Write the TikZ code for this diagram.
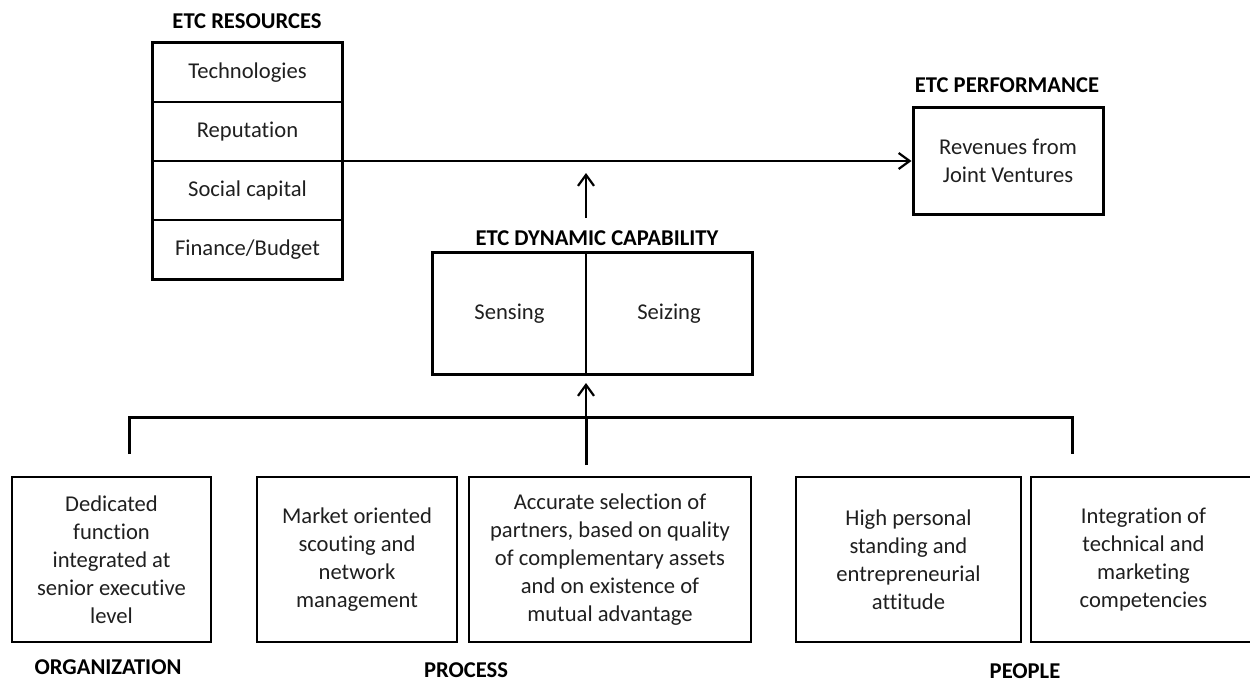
\documentclass[tikz,border=0pt]{standalone}
\usepackage{fontspec}
\setmainfont[Ligatures={NoCommon}]{Carlito}
\usetikzlibrary{arrows.meta,fit}

\tikzset{
  txt/.style={font=\fontsize{22.6}{28}\selectfont, text=black!88, align=center, inner sep=0pt},
  heading/.style={font=\fontsize{22.6}{28}\selectfont\bfseries, text=black, inner sep=0pt},
  cell/.style={txt, draw, line width=1.5pt, minimum width=189pt, minimum height=59pt},
  half/.style={txt, draw, line width=1.5pt, minimum height=121pt},
  outerbox/.style={draw, line width=3pt, inner sep=0pt},
  factor/.style={txt, draw, line width=2.2pt, minimum height=165pt},
  link/.style={line width=2.6pt, -{Straight Barb[length=11pt,width=16pt,line width=2.2pt]}},
  bracket/.style={line width=3pt}
}

\begin{document}
\begin{tikzpicture}[x=1pt,y=-1pt]
\useasboundingbox (0,0) rectangle (1250,682);

% resources column
\node[heading] (resT) at (247,21) {ETC RESOURCES};
\node[cell] (r1) at (247.5,72.5)  {Technologies};
\node[cell] (r2) at (247.5,131.5) {Reputation};
\node[cell] (r3) at (247.5,190.5) {Social capital};
\node[cell] (r4) at (247.5,249.5) {Finance/Budget};
\node[outerbox, fit=(r1)(r4)] (res) {};

% performance
\node[heading] (perfT) at (1007,85) {ETC PERFORMANCE};
\node[txt, outerbox, minimum width=190pt, minimum height=106pt] (perf) at (1008,161)
  {Revenues from\\Joint Ventures};

% dynamic capability
\node[heading] (dcT) at (597,238) {ETC DYNAMIC CAPABILITY};
\node[half, minimum width=153pt] (sense) at (509.5,313.5) {Sensing};
\node[half, minimum width=166pt] (seize) at (669,313.5) {Seizing};
\node[outerbox, fit=(sense)(seize)] (dc) {};

% capability factors
\node[factor, minimum width=199pt] (b1) at (111.5,559.5)
  {Dedicated\\function\\integrated at\\senior executive\\level};
\node[factor, minimum width=200pt] (b2) at (357,559.5)
  {Market oriented\\scouting and\\network\\management};
\node[factor, minimum width=282pt] (b3) at (610,559.5)
  {Accurate selection of\\partners, based on quality\\of complementary assets\\and on existence of\\mutual advantage};
\node[factor, minimum width=225pt] (b4) at (908.5,559.5)
  {High personal\\standing and\\entrepreneurial\\attitude};
\node[factor, minimum width=225pt] (b5) at (1143.5,559.5)
  {Integration of\\technical and\\marketing\\competencies};

\node[heading] (orgT) at (108,667) {ORGANIZATION};
\node[heading] (procT) at (466,670) {PROCESS};
\node[heading] (peopT) at (1025,671) {PEOPLE};

% connectors
\draw[link] (res.east) -- (perf.west);

\coordinate (dcOut) at (586,218);
\coordinate (dcTip) at (586,173);
\draw[link, line width=2pt] (dcOut) -- (dcTip);

\coordinate (bl) at (129,454);
\coordinate (br) at (1072,454);
\coordinate (hub) at (586,417);
\coordinate (hubLow) at (586,465);
\coordinate (dcIn) at (586,383);
\draw[bracket] (bl) |- (hub) -| (br);
\draw[bracket] (hubLow) -- (hub);
\draw[link] (hub) -- (dcIn);
\end{tikzpicture}
\end{document}
